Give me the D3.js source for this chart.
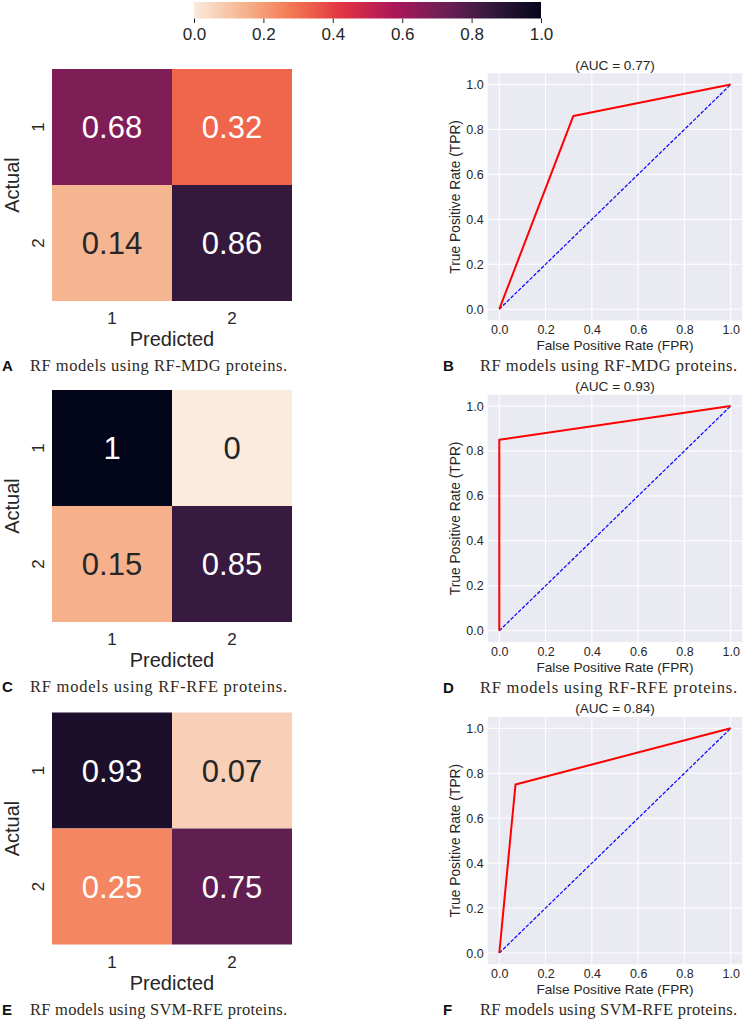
<!DOCTYPE html>
<meta charset="utf-8"/>
<style>
  body { margin: 0; background: #fff; }
  svg { display: block; }
</style>
<svg width="744" height="1020"></svg>
<script src="https://d3js.org/d3.v7.min.js"></script>
<script>

// --- data ---
var classes = ["1", "2"];
var matA = [[0.68, 0.32], [0.14, 0.86]];
var matC = [[1, 0], [0.15, 0.85]];
var matE = [[0.93, 0.07], [0.25, 0.75]];
var matrices = [matA, matC, matE];

var rocFpr = [[0, 0.32, 1], [0, 0, 1], [0, 0.07, 1]];
var rocTpr = [[0, 0.86, 1], [0, 0.85, 1], [0, 0.75, 1]];
var aucs = [0.77, 0.93, 0.84];

var rocTicks = [0, 0.2, 0.4, 0.6, 0.8, 1.0];
var cbarTicks = [0, 0.2, 0.4, 0.6, 0.8, 1.0];

var leftLetters = ["A", "C", "E"];
var rightLetters = ["B", "D", "F"];
var captions = ["RF models using RF-MDG proteins.",
                "RF models using RF-RFE proteins.",
                "RF models using SVM-RFE proteins."];

// rocket colormap samples, reversed (rocket_r)
var rocketStops = ["#03051a", "#35193e", "#701f57", "#ad1759", "#e13342", "#f37651", "#f6b48f", "#faebdd"];

var svg = d3.select("svg"),
    sans = "'Liberation Sans', Arial, sans-serif",
    serif = "'Liberation Serif', 'Times New Roman', serif",
    ink = "#262626";

var color = d3.scaleLinear()
    .domain(d3.range(rocketStops.length).map(function(i) { return 1 - i / (rocketStops.length - 1); }))
    .range(rocketStops)
    .interpolate(d3.interpolateRgb);

function textColor(c) {
  var rgb = d3.rgb(c);
  var lin = [rgb.r, rgb.g, rgb.b].map(function(v) {
    v /= 255;
    return v <= 0.03928 ? v / 12.92 : Math.pow((v + 0.055) / 1.055, 2.4);
  });
  var lum = 0.2126 * lin[0] + 0.7152 * lin[1] + 0.0722 * lin[2];
  return lum > 0.408 ? ink : "#fff";
}

// --- colorbar ---
var cb = d3.scaleLinear().domain([0, 1]).range([194, 541]);
var grad = svg.append("defs").append("linearGradient").attr("id", "cbar");
d3.range(0, 1.0001, 0.02).forEach(function(t) {
  grad.append("stop").attr("offset", (t * 100) + "%").attr("stop-color", color(t));
});
svg.append("rect")
    .attr("x", cb(0)).attr("y", 2)
    .attr("width", cb(1) - cb(0)).attr("height", 16.5)
    .attr("fill", "url(#cbar)");
var cbAxis = svg.append("g")
    .attr("transform", "translate(0,18.5)")
    .call(d3.axisBottom(cb).tickValues(cbarTicks).tickFormat(d3.format(".1f")).tickSize(4.5).tickPadding(5));
cbAxis.select(".domain").remove();
cbAxis.selectAll("line").attr("stroke", ink);
cbAxis.selectAll("text").attr("fill", ink).style("font-family", sans).style("font-size", "17px");

// --- rows ---
var heatTops = [69, 390, 712.5],
    heatH = 232,
    rocTops = [84.5, 406, 728.3],
    rocH = 224.7;

var fmt = d3.format("~g");

matrices.forEach(function(mat, r) {
  var top = heatTops[r];
  var x = d3.scaleBand().domain(classes).range([52, 292]);
  var y = d3.scaleBand().domain(classes).range([top, top + heatH]);
  var g = svg.append("g");

  var cells = [];
  mat.forEach(function(row, i) {
    row.forEach(function(v, j) { cells.push({a: classes[i], p: classes[j], v: v}); });
  });

  g.selectAll("rect").data(cells).enter().append("rect")
      .attr("x", function(d) { return x(d.p); })
      .attr("y", function(d) { return y(d.a); })
      .attr("width", x.bandwidth())
      .attr("height", y.bandwidth())
      .attr("fill", function(d) { return color(d.v); });

  g.selectAll("text.ann").data(cells).enter().append("text")
      .attr("class", "ann")
      .attr("x", function(d) { return x(d.p) + x.bandwidth() / 2; })
      .attr("y", function(d) { return y(d.a) + y.bandwidth() / 2 + 11; })
      .attr("text-anchor", "middle")
      .attr("fill", function(d) { return textColor(color(d.v)); })
      .style("font-family", sans)
      .style("font-size", "31px")
      .text(function(d) { return fmt(d.v); });

  // x tick labels
  g.selectAll("text.xt").data(classes).enter().append("text")
      .attr("x", function(d) { return x(d) + x.bandwidth() / 2; })
      .attr("y", top + heatH + 23)
      .attr("text-anchor", "middle")
      .attr("fill", ink)
      .style("font-family", sans).style("font-size", "17px")
      .text(function(d) { return d; });

  // y tick labels (rotated)
  g.selectAll("text.yt").data(classes).enter().append("text")
      .attr("transform", function(d) { return "translate(43.5," + (y(d) + y.bandwidth() / 2) + ") rotate(-90)"; })
      .attr("text-anchor", "middle")
      .attr("fill", ink)
      .style("font-family", sans).style("font-size", "17px")
      .text(function(d) { return d; });

  g.append("text")
      .attr("x", 172).attr("y", top + heatH + 45)
      .attr("text-anchor", "middle").attr("fill", ink)
      .style("font-family", sans).style("font-size", "20px")
      .text("Predicted");

  g.append("text")
      .attr("transform", "translate(19," + (top + heatH / 2) + ") rotate(-90)")
      .attr("text-anchor", "middle").attr("fill", ink)
      .style("font-family", sans).style("font-size", "20px")
      .text("Actual");

  addCaption(2, 30, top + 302, leftLetters[r], captions[r]);
});

rocFpr.forEach(function(fpr, r) {
  var top = rocTops[r];
  var x = d3.scaleLinear().domain([0, 1]).range([499.3, 730.7]);
  var y = d3.scaleLinear().domain([0, 1]).range([top + rocH, top]);
  var g = svg.append("g");

  g.append("rect")
      .attr("x", x(-0.05)).attr("y", y(1.05))
      .attr("width", x(1.05) - x(-0.05))
      .attr("height", y(-0.05) - y(1.05))
      .attr("fill", "#eaeaf2");

  g.selectAll("line.gx").data(rocTicks).enter().append("line")
      .attr("x1", function(d) { return x(d); }).attr("x2", function(d) { return x(d); })
      .attr("y1", y(-0.05)).attr("y2", y(1.05))
      .attr("stroke", "#fff").attr("stroke-width", 1);
  g.selectAll("line.gy").data(rocTicks).enter().append("line")
      .attr("y1", function(d) { return y(d); }).attr("y2", function(d) { return y(d); })
      .attr("x1", x(-0.05)).attr("x2", x(1.05))
      .attr("stroke", "#fff").attr("stroke-width", 1);

  var xAxis = g.append("g")
      .attr("transform", "translate(0," + y(-0.05) + ")")
      .call(d3.axisBottom(x).tickValues(rocTicks).tickFormat(d3.format(".1f")).tickSize(0).tickPadding(5));
  var yAxis = g.append("g")
      .attr("transform", "translate(" + x(-0.05) + ",0)")
      .call(d3.axisLeft(y).tickValues(rocTicks).tickFormat(d3.format(".1f")).tickSize(0).tickPadding(4));
  [xAxis, yAxis].forEach(function(ax) {
    ax.select(".domain").remove();
    ax.selectAll("text").attr("fill", ink).style("font-family", sans).style("font-size", "12.5px");
  });

  var pts = fpr.map(function(f, i) { return [f, rocTpr[r][i]]; });
  var line = d3.line().x(function(d) { return x(d[0]); }).y(function(d) { return y(d[1]); });

  g.append("path")
      .datum([[0, 0], [1, 1]])
      .attr("d", line)
      .attr("fill", "none").attr("stroke", "blue")
      .attr("stroke-width", 1.2).attr("stroke-dasharray", "3.7,1.6");

  g.append("path")
      .datum(pts)
      .attr("d", line)
      .attr("fill", "none").attr("stroke", "red")
      .attr("stroke-width", 2).attr("stroke-linejoin", "round");

  g.append("text")
      .attr("x", x(0.5)).attr("y", top - 15)
      .attr("text-anchor", "middle").attr("fill", ink)
      .style("font-family", sans).style("font-size", "13.6px")
      .text("(AUC = " + aucs[r].toFixed(2) + ")");

  g.append("text")
      .attr("x", x(0.5)).attr("y", top + rocH + 41)
      .attr("text-anchor", "middle").attr("fill", ink)
      .style("font-family", sans).style("font-size", "13.6px")
      .text("False Positive Rate (FPR)");

  g.append("text")
      .attr("transform", "translate(460," + y(0.5) + ") rotate(-90)")
      .attr("text-anchor", "middle").attr("fill", ink)
      .style("font-family", sans).style("font-size", "13.8px")
      .text("True Positive Rate (TPR)");

  addCaption(443, 480, top + 286.5, rightLetters[r], captions[r]);
});

function addCaption(lx, tx, base, letter, text) {
  svg.append("text")
      .attr("x", lx).attr("y", base)
      .attr("fill", "#111")
      .style("font-family", sans).style("font-weight", "bold").style("font-size", "15px")
      .text(letter);
  svg.append("text")
      .attr("x", tx).attr("y", base)
      .attr("fill", "#2e2a24")
      .attr("textLength", 257).attr("lengthAdjust", "spacing")
      .style("font-family", serif).style("font-size", "16.5px")
      .text(text);
}

</script>
